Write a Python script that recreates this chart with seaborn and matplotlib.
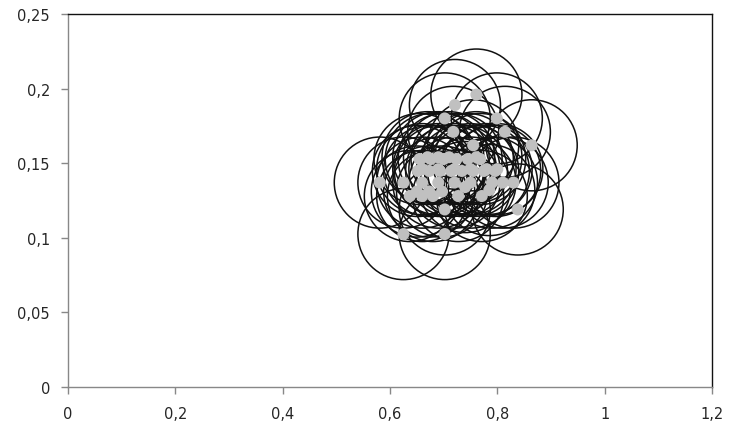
import matplotlib
matplotlib.use("Agg")
import matplotlib.pyplot as plt
import seaborn as sns
import pandas as pd
from matplotlib.ticker import FuncFormatter

x_vals = [0.761, 0.721, 0.702, 0.799, 0.814, 0.718, 0.864, 0.755, 0.761,
          0.670, 0.690, 0.710, 0.660, 0.690, 0.720, 0.750, 0.780, 0.800,
          0.581, 0.625, 0.660, 0.690, 0.720, 0.750, 0.790, 0.810, 0.830,
          0.637, 0.660, 0.680, 0.727, 0.771, 0.702, 0.838, 0.625, 0.702,
          0.652, 0.673, 0.693, 0.714, 0.734, 0.755, 0.775, 0.796,
          0.655, 0.676, 0.700, 0.724, 0.745, 0.768,
          0.650, 0.673, 0.697, 0.740, 0.785]
y_vals = [0.196, 0.189, 0.180, 0.180, 0.171, 0.171, 0.162, 0.162, 0.154,
          0.154, 0.154, 0.154, 0.146, 0.146, 0.146, 0.146, 0.146, 0.146,
          0.137, 0.137, 0.137, 0.137, 0.137, 0.137, 0.137, 0.137, 0.137,
          0.128, 0.128, 0.128, 0.128, 0.128, 0.119, 0.119, 0.1025, 0.1025,
          0.1448, 0.1448, 0.1448, 0.1448, 0.1448, 0.1448, 0.1448, 0.1448,
          0.1528, 0.1528, 0.1528, 0.1528, 0.1528, 0.1528,
          0.1310, 0.1310, 0.1310, 0.1340, 0.1320]
x_ticks = [0, 0.2, 0.4, 0.6, 0.8, 1.0, 1.2]
y_ticks = [0, 0.05, 0.10, 0.15, 0.20, 0.25]

df = pd.DataFrame({"x": x_vals, "y": y_vals})

sns.set_style("white")
plt.rcParams['font.family'] = ['DejaVu Sans']

fig = plt.figure(figsize=(7.31, 4.35), dpi=100)
ax = fig.add_axes([68/731, 47/435, 644/731, 373/435])

sns.scatterplot(data=df, x="x", y="y", ax=ax, s=4300, facecolors="none",
                edgecolor="#111111", linewidth=1.1, zorder=2)
sns.scatterplot(data=df, x="x", y="y", ax=ax, s=75, color="#c0c0c0",
                edgecolor="none", zorder=3)

ax.set_xlim(0, 1.2)
ax.set_ylim(0, 0.25)
ax.set_xticks(x_ticks)
ax.set_yticks(y_ticks)
fmt = FuncFormatter(lambda v, p: ("%g" % round(v, 3)).replace(".", ","))
ax.xaxis.set_major_formatter(fmt)
ax.yaxis.set_major_formatter(fmt)
ax.set_xlabel("")
ax.set_ylabel("")

for s in ["left", "bottom"]:
    ax.spines[s].set_color("#888888")
    ax.spines[s].set_linewidth(1.0)
for s in ["top", "right"]:
    ax.spines[s].set_color("#111111")
    ax.spines[s].set_linewidth(1.0)
ax.tick_params(axis="both", direction="out", length=5, width=1, color="#888888",
               labelsize=10.5, labelcolor="#262626", bottom=True, left=True)
ax.tick_params(axis="x", pad=9)
ax.tick_params(axis="y", pad=8)

fig.savefig("out.png", dpi=100)
